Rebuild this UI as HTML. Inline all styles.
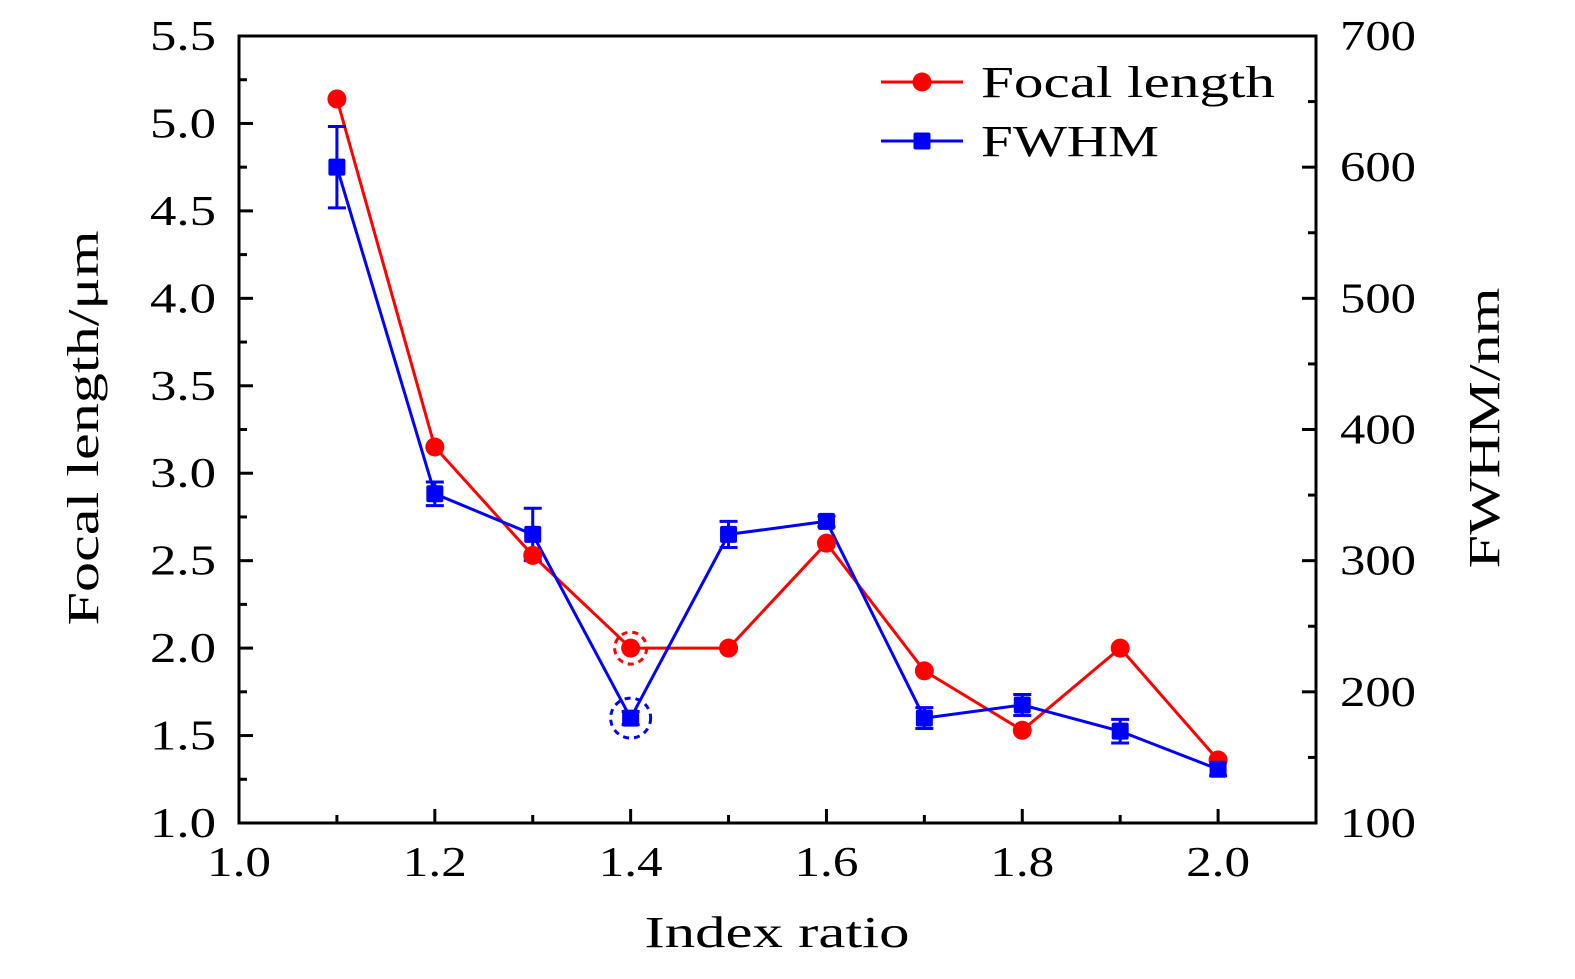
<!DOCTYPE html>
<html><head><meta charset="utf-8"><style>
body{margin:0;background:#fff}
svg text{font-family:"Liberation Serif",serif;fill:#000}
</style></head><body>
<svg id="chart" width="1575" height="974" viewBox="0 0 1575 974" xmlns="http://www.w3.org/2000/svg"></svg>
<script>
const xCats=[1.1,1.2,1.3,1.4,1.5,1.6,1.7,1.8,1.9,2.0];
const focal=[5.14,3.15,2.53,2.0,2.0,2.6,1.87,1.53,2.0,1.36];
const fwhm=[600,351,320,180,320,330,180,190,170,141];
const fwhmErr=[31,9,20,5,10,4,8,8,9,5];
const xTicks=["1.0","1.2","1.4","1.6","1.8","2.0"];
const yLeftTicks=["1.0","1.5","2.0","2.5","3.0","3.5","4.0","4.5","5.0","5.5"];
const yRightTicks=["100","200","300","400","500","600","700"];

const L=239,R=1316,T=36,B=823;
const sx=v=>L+(v-1.0)/1.1*(R-L);
const syL=v=>B-(v-1.0)/4.5*(B-T);
const syR=v=>B-(v-100)/600*(B-T);
const svg=document.getElementById('chart');
const NS="http://www.w3.org/2000/svg";
function mk(tag,attrs,parent){const e=document.createElementNS(NS,tag);for(const k in attrs)e.setAttribute(k,attrs[k]);(parent||svg).appendChild(e);return e;}

for(let i=0;i<=11;i++){const v=1.0+i*0.1;const x=sx(v);const len=i%2==0?14:8;
 const t=mk('line',{x1:x,y1:B,x2:x,y2:B-len,stroke:'#000','stroke-width':3});
 
 }
for(let i=0;i<=18;i++){const v=1.0+i*0.25;const y=syL(v);const len=i%2==0?14:8;
 const t=mk('line',{x1:L,y1:y,x2:L+len,y2:y,stroke:'#000','stroke-width':3});
 
 }
for(let i=0;i<=12;i++){const v=100+i*50;const y=syR(v);const len=i%2==0?14:8;
 const t=mk('line',{x1:R,y1:y,x2:R-len,y2:y,stroke:'#000','stroke-width':3});
 
 }
const frame=mk('rect',{x:L,y:T,width:R-L,height:B-T,fill:'none',stroke:'#000','stroke-width':3});



xTicks.forEach(s=>{const t=mk('text',{x:sx(+s),y:876,'font-size':42,'text-anchor':'middle',textLength:64,lengthAdjust:'spacingAndGlyphs'});t.textContent=s;
 
 });
yLeftTicks.forEach(s=>{const t=mk('text',{x:216,y:syL(+s)+14,'font-size':42,'text-anchor':'end',textLength:66,lengthAdjust:'spacingAndGlyphs'});t.textContent=s;
 
 });
yRightTicks.forEach(s=>{const t=mk('text',{x:1340,y:syR(+s)+14,'font-size':42,'text-anchor':'start',textLength:76,lengthAdjust:'spacingAndGlyphs'});t.textContent=s;
 
 });

let t=mk('text',{x:777,y:947,'font-size':44,'text-anchor':'middle',textLength:265,lengthAdjust:'spacingAndGlyphs'});t.textContent='Index ratio';


t=mk('text',{x:0,y:0,'font-size':44,'text-anchor':'middle',textLength:395,lengthAdjust:'spacingAndGlyphs',transform:'translate(98,428) rotate(-90)'});t.textContent='Focal length/μm';


t=mk('text',{x:0,y:0,'font-size':44,'text-anchor':'middle',textLength:281,lengthAdjust:'spacingAndGlyphs',transform:'translate(1499,428) rotate(-90)'});t.textContent='FWHM/nm';



let p=mk('polyline',{points:xCats.map((x,i)=>sx(x)+','+syL(focal[i])).join(' '),fill:'none',stroke:'#f00','stroke-width':3});


p=mk('polyline',{points:xCats.map((x,i)=>sx(x)+','+syR(fwhm[i])).join(' '),fill:'none',stroke:'#00f','stroke-width':3});


xCats.forEach((x,i)=>{const cx=sx(x);const y1=syR(fwhm[i]+fwhmErr[i]),y2=syR(fwhm[i]-fwhmErr[i]);
 const g=mk('path',{d:`M${cx},${y1}V${y2}M${cx-9},${y1}H${cx+9}M${cx-9},${y2}H${cx+9}`,stroke:'#00f','stroke-width':3,fill:'none'});
 
 });
xCats.forEach((x,i)=>{const c=mk('circle',{cx:sx(x),cy:syL(focal[i]),r:9.5,fill:'#f00'});
 
 });
xCats.forEach((x,i)=>{const s=mk('rect',{x:sx(x)-8.5,y:syR(fwhm[i])-8.5,width:17,height:17,rx:2,fill:'#00f'});
 
 });
let c=mk('circle',{cx:sx(1.4),cy:syL(focal[3]),r:16,fill:'none',stroke:'#f00','stroke-width':3,'stroke-dasharray':'6,5'});


c=mk('circle',{cx:sx(1.4),cy:syR(fwhm[3]),r:20,fill:'none',stroke:'#00f','stroke-width':3,'stroke-dasharray':'6,5'});



let g=mk('g',{});


mk('line',{x1:881,y1:82,x2:963,y2:82,stroke:'#f00','stroke-width':3},g);
mk('circle',{cx:922,cy:82,r:9.5,fill:'#f00'},g);
t=mk('text',{x:981,y:97,'font-size':44,textLength:294,lengthAdjust:'spacingAndGlyphs'},g);t.textContent='Focal length';
g=mk('g',{});


mk('line',{x1:881,y1:141,x2:963,y2:141,stroke:'#00f','stroke-width':3},g);
mk('rect',{x:913.5,y:132.5,width:17,height:17,rx:2,fill:'#00f'},g);
t=mk('text',{x:981,y:156,'font-size':44,textLength:178,lengthAdjust:'spacingAndGlyphs'},g);t.textContent='FWHM';
</script>
</body></html>
